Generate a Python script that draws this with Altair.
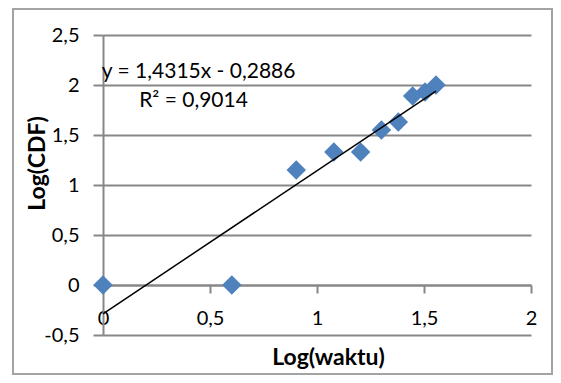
import altair as alt
import pandas as pd

# ---- data ----
log_waktu = [0.0, 0.602, 0.903, 1.079, 1.204, 1.301, 1.380, 1.447, 1.505, 1.556]
log_cdf = [0.0, 0.0, 1.15, 1.33, 1.33, 1.55, 1.63, 1.89, 1.93, 2.0]
slope = 1.4315
intercept = -0.2886
equation_text = "y = 1,4315x - 0,2886"
r2_text = "R² = 0,9014"
note_x = [0.447, 0.423]
note_y = [2.135, 1.84]
x_ticks = [0, 0.5, 1, 1.5, 2]
y_ticks = [-0.5, 0, 0.5, 1, 1.5, 2, 2.5]

pts = pd.DataFrame({"x": log_waktu, "y": log_cdf})
trend = pd.DataFrame({"x": [min(log_waktu), max(log_waktu)]})
notes = pd.DataFrame({"x": note_x, "y": note_y, "t": [equation_text, r2_text]})
frame = pd.DataFrame({"a": [0]})

W, H = 428, 300
FONT = "Lato"
GRID = "#878787"
label_expr = "replace(toString(datum.value), '.', ',')"

xscale = alt.Scale(domain=[0, 2], nice=False, zero=False)
yscale = alt.Scale(domain=[-0.5, 2.5], nice=False, zero=False)

xaxis = alt.Axis(
    values=x_ticks, labelExpr=label_expr, grid=False, offset=-50,
    tickSize=8, tickWidth=2, tickColor=GRID, domainColor=GRID, domainWidth=2,
    labelFont=FONT, labelFontSize=20, labelColor="black", labelPadding=15,
    labelFlush=False, labelOverlap=False,
    title="Log(waktu)", titleFont=FONT, titleFontSize=23, titleFontWeight="bold",
    titleColor="black", titleX=225, titleY=72, titleBaseline="middle", titleAlign="center",
)
yaxis = alt.Axis(
    values=y_ticks, labelExpr=label_expr, grid=True, gridColor=GRID, gridWidth=2,
    tickSize=10, tickWidth=2, tickColor=GRID, domainColor=GRID, domainWidth=2,
    labelFont=FONT, labelFontSize=20, labelColor="black", labelPadding=14,
    labelFlush=False, labelOverlap=False,
    title="Log(CDF)", titleFont=FONT, titleFontSize=23, titleFontWeight="bold",
    titleColor="black", titleX=-66, titleY=128, titleAngle=270,
    titleBaseline="middle", titleAlign="center",
)

X = alt.X("x:Q", scale=xscale, axis=xaxis)

border = alt.Chart(frame).mark_rect(
    fill="white", fillOpacity=0, stroke="#A3A3A3", strokeWidth=2
).encode(
    x=alt.value(-90), x2=alt.value(449), y=alt.value(-26), y2=alt.value(339)
)

points = alt.Chart(pts).mark_point(
    shape="diamond", filled=True, size=380, color="#4F81BD", opacity=1
).encode(x=X, y=alt.Y("y:Q", scale=yscale, axis=yaxis))

line = alt.Chart(trend).transform_calculate(
    yy=f"{slope} * datum.x + ({intercept})"
).mark_line(color="black", strokeWidth=1.5).encode(
    x=X, y=alt.Y("yy:Q", scale=yscale, axis=yaxis)
)

text = alt.Chart(notes).mark_text(
    font=FONT, fontSize=21, color="black", align="center", baseline="middle"
).encode(x=X, y=alt.Y("y:Q", scale=yscale, axis=yaxis), text="t:N")

chart = alt.layer(border, points, line, text).properties(
    width=W, height=H,
    autosize=alt.AutoSizeParams(type="none"),
    padding={"left": 95, "top": 27, "right": 22, "bottom": 40},
    background="white",
).configure_view(stroke="transparent")

chart.save("out.html", embed_options={"renderer": "svg", "actions": False})
